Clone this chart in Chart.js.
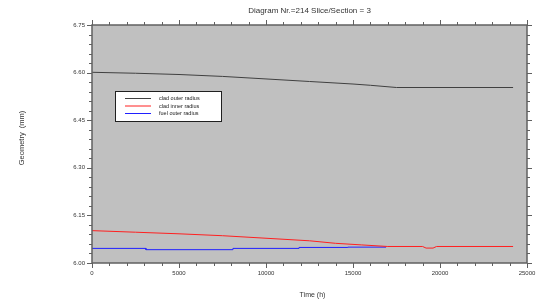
<!DOCTYPE html>
<html>
<head>
<meta charset="utf-8">
<script src="https://cdn.jsdelivr.net/npm/chart.js@4"></script>
<style>
  html, body { margin: 0; padding: 0; background: #fff; }
  #wrap { width: 537px; height: 302px; }
</style>
</head>
<body>
<div id="wrap"><canvas id="geo"></canvas></div>
<script>
// Diagram Nr.=214, slice 3 - geometry vs time

const cladOuterT = [0, 2500, 5000, 7500, 10000, 12500, 15000, 16000, 17500, 20000, 24200];
const cladOuterR = [6.601, 6.598, 6.594, 6.588, 6.580, 6.572, 6.564, 6.560, 6.553, 6.553, 6.553];

const cladInnerT = [0, 2500, 5000, 7500, 10000, 12500, 14000, 15500, 17000, 19000, 19200, 19600, 19800, 24200];
const cladInnerR = [6.102, 6.097, 6.092, 6.086, 6.078, 6.070, 6.062, 6.057, 6.052, 6.052, 6.047, 6.047, 6.052, 6.052];

const fuelOuterT = [0, 3100, 3100, 8100, 8100, 11900, 11900, 14700, 14700, 16900];
const fuelOuterR = [6.046, 6.046, 6.042, 6.042, 6.046, 6.046, 6.049, 6.049, 6.050, 6.050];

const seriesNames = ["clad outer radius", "clad inner radius", "fuel outer radius"];
const seriesColors = ["#404040", "#ff2020", "#2020ff"];

const xTickValues = [0, 5000, 10000, 15000, 20000, 25000];
const xTickLabels = ["0", "5000", "10000", "15000", "20000", "25000"];
const yTickValues = [6.00, 6.15, 6.30, 6.45, 6.60, 6.75];
const yTickLabels = ["6.00", "6.15", "6.30", "6.45", "6.60", "6.75"];

function pts(t, r) {
    return t.map((v, i) => ({ x: v, y: r[i] }));
}

const FONT = '"Liberation Sans", Arial, sans-serif';

// grey plot area, frame, ticks, labels and legend
const frame = {
    id: "frame",
    beforeDatasetsDraw(chart) {
        const { ctx, chartArea: a } = chart;
        ctx.save();
        ctx.fillStyle = "#c0c0c0";
        ctx.fillRect(a.left, a.top, a.right - a.left, a.bottom - a.top);
        ctx.restore();
    },
    afterDatasetsDraw(chart) {
        const { ctx, chartArea: a, scales } = chart;
        const xs = scales.x, ys = scales.y;
        ctx.save();
        ctx.strokeStyle = "#606060";
        ctx.lineWidth = 1.5;
        ctx.strokeRect(a.left, a.top, a.right - a.left, a.bottom - a.top);

        ctx.lineWidth = 1;
        ctx.beginPath();
        for (let v = 0; v <= 25000; v += 1000) {
            const px = Math.round(xs.getPixelForValue(v)) + 0.5;
            const len = v % 5000 === 0 ? 5 : 3;
            ctx.moveTo(px, a.bottom); ctx.lineTo(px, a.bottom + len);
            ctx.moveTo(px, a.top); ctx.lineTo(px, a.top - len);
        }
        for (let k = 0; k <= 25; k++) {
            const v = 6 + k * 0.03;
            const py = Math.round(ys.getPixelForValue(v)) + 0.5;
            const len = k % 5 === 0 ? 5 : 3;
            ctx.moveTo(a.left, py); ctx.lineTo(a.left - len, py);
            ctx.moveTo(a.right, py); ctx.lineTo(a.right + len, py);
        }
        ctx.stroke();

        ctx.fillStyle = "#333";
        ctx.font = "6px " + FONT;
        ctx.textAlign = "center";
        ctx.textBaseline = "top";
        xTickValues.forEach((v, i) => {
            ctx.fillText(xTickLabels[i], xs.getPixelForValue(v), a.bottom + 7);
        });
        ctx.textAlign = "right";
        ctx.textBaseline = "middle";
        yTickValues.forEach((v, i) => {
            ctx.fillText(yTickLabels[i], a.left - 7, ys.getPixelForValue(v));
        });

        ctx.font = "7px " + FONT;
        ctx.textAlign = "center";
        ctx.fillText("Time (h)", (a.left + a.right) / 2 + 3, 295);
        ctx.save();
        ctx.translate(22, 138);
        ctx.rotate(-Math.PI / 2);
        ctx.font = "7.5px " + FONT;
        ctx.fillText("Geometry  (mm)", 0, 0);
        ctx.restore();

        ctx.font = "8px " + FONT;
        ctx.fillText("Diagram Nr.=214 Slice/Section = 3", (a.left + a.right) / 2, 11);

        // legend box
        const lx = 115, ly = 91, lw = 106, lh = 30;
        ctx.fillStyle = "#fff";
        ctx.fillRect(lx, ly, lw, lh);
        ctx.strokeStyle = "#202020";
        ctx.lineWidth = 1;
        ctx.strokeRect(lx + 0.5, ly + 0.5, lw, lh);
        ctx.font = "5.5px " + FONT;
        ctx.textAlign = "left";
        chart.data.datasets.forEach((ds, i) => {
            const yy = ly + 7.5 + i * 7.5;
            ctx.strokeStyle = ds.borderColor;
            ctx.beginPath();
            ctx.moveTo(lx + 10, yy); ctx.lineTo(lx + 36, yy);
            ctx.stroke();
            ctx.fillStyle = "#222";
            ctx.fillText(ds.label, lx + 44, yy);
        });
        ctx.restore();
    }
};

new Chart(document.getElementById("geo"), {
    type: "line",
    data: {
        datasets: [
            { label: seriesNames[0], data: pts(cladOuterT, cladOuterR), borderColor: seriesColors[0] },
            { label: seriesNames[1], data: pts(cladInnerT, cladInnerR), borderColor: seriesColors[1] },
            { label: seriesNames[2], data: pts(fuelOuterT, fuelOuterR), borderColor: seriesColors[2] }
        ]
    },
    options: {
        responsive: true,
        maintainAspectRatio: false,
        animation: false,
        layout: { padding: { left: 92, right: 10, top: 25, bottom: 39 } },
        elements: {
            line: { borderWidth: 1, tension: 0 },
            point: { radius: 0 }
        },
        plugins: {
            legend: { display: false },
            title: { display: false },
            tooltip: { enabled: false }
        },
        scales: {
            x: { type: "linear", min: 0, max: 25000, display: false },
            y: { type: "linear", min: 6.0, max: 6.75, display: false }
        }
    },
    plugins: [frame]
});
</script>
</body>
</html>
